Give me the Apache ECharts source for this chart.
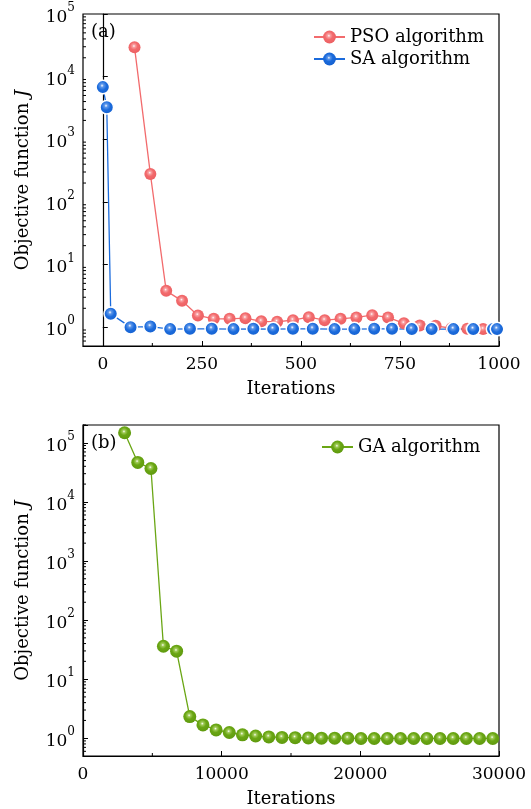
<!DOCTYPE html>
<html><head><meta charset="utf-8">
<script src="https://cdn.jsdelivr.net/npm/echarts@6/dist/echarts.min.js"></script>
<style>html,body{margin:0;padding:0;background:#fff}#c{width:531px;height:809px}</style>
</head><body><div id="c"></div>
<script>
// ---- data ----
const psoIter = [80,120,160,200,240,280,320,360,400,440,480,520,560,600,640,680,720,760,800,840,880,920,960];
const psoJ = [29500,280,3.8,2.63,1.54,1.36,1.36,1.39,1.24,1.22,1.29,1.44,1.29,1.36,1.43,1.55,1.43,1.15,1.06,1.05,0.96,0.94,0.93];
const saIter = [0,10,20,70,120,170,220,275,330,380,430,480,530,585,635,685,730,780,830,885,935,985,995];
const saJ = [6800,3250,1.63,1.0,1.02,0.93,0.94,0.94,0.93,0.94,0.93,0.94,0.94,0.93,0.93,0.94,0.94,0.93,0.93,0.93,0.93,0.93,0.93];
const gaIter = [3000,3950,4900,5800,6750,7700,8650,9600,10550,11500,12450,13400,14350,15300,16250,17200,18150,19100,20050,21000,21950,22900,23850,24800,25750,26700,27650,28600,29550];
const gaJ = [148000,46500,36700,36,29.7,2.32,1.68,1.38,1.25,1.14,1.09,1.05,1.03,1.02,1.01,1.0,1.0,1.0,0.99,0.99,0.99,0.99,0.99,0.99,0.99,0.99,0.99,0.99,0.99];
const xTicksA = [0,250,500,750,1000];
const xMinorA = [125,375,625,875];
const xTicksB = [0,10000,20000,30000];
const xMinorB = [5000,15000,25000];
const yMinorA = [0.6,0.7,0.8,0.9,2,3,4,5,6,7,8,9,20,30,40,50,60,70,80,90,200,300,400,500,600,700,800,900,2000,3000,4000,5000,6000,7000,8000,9000,20000,30000,40000,50000,60000,70000,80000,90000];
const yMinorB = yMinorA.concat([200000]);

const FONT = 'DejaVu Serif';
const xRangeA = [-50, 1000], yRangeA = [0.5, 1e5];
const xRangeB = [0, 30000], yRangeB = [0.5, 2e5];

function ball(base, light, dark){
  return {type:'radial', x:0.45, y:0.4, r:0.6, colorStops:[
    {offset:0, color:'#ffffff'},{offset:0.18, color:light},{offset:0.5, color:base},{offset:1, color:dark}]};
}
const RED='#f26b6d', BLUE='#1b6bdc', GREEN='#6aa614';

function logLabel(v){
  const l = Math.log10(v), e = Math.round(l);
  if (Math.abs(l-e) > 1e-6) return '';
  return '{b|10}{s|' + e + '}';
}
const yLabel = {
  fontFamily: FONT, color:'#000', margin: 8, formatter: logLabel,
  rich: {
    b:{fontFamily:FONT, fontSize:17, color:'#000', lineHeight:24, verticalAlign:'bottom'},
    s:{fontFamily:FONT, fontSize:12, color:'#000', lineHeight:24, verticalAlign:'top'}
  }
};
function yAxis(gi, range){
  return {
    type:'log', logBase:10, gridIndex:gi, min:range[0], max:range[1],
    axisLine:{show:true, lineStyle:{color:'#000', width:1.2}},
    axisTick:{show:true, inside:true, length:5, lineStyle:{color:'#000', width:1}},
    splitLine:{show:false}, minorTick:{show:false},
    axisLabel: yLabel,
    name:'Objective function {i|J}', nameLocation:'middle', nameGap:51,
    nameTextStyle:{fontFamily:FONT, fontSize:18, color:'#000',
      rich:{i:{fontFamily:FONT, fontStyle:'italic', fontSize:18, color:'#000'}}}
  };
}
const plain = v => String(v);
function xAxis(gi, range, extra){
  const a = {
    type:'value', gridIndex:gi, min:range[0], max:range[1],
    axisLine:{show:true, onZero:false, lineStyle:{color:'#000', width:1.2}},
    axisTick:{show:true, inside:true, length:5, lineStyle:{color:'#000', width:1}},
    splitLine:{show:false},
    axisLabel:{fontFamily:FONT, fontSize:17, color:'#000', margin:10, formatter:plain},
    name:'Iterations', nameLocation:'middle', nameGap:34,
    nameTextStyle:{fontFamily:FONT, fontSize:18, color:'#000'}
  };
  return Object.assign(a, extra||{});
}
function lineSeries(name, gi, xs, ys, color, fill, size, border){
  return {
    name, type:'line', xAxisIndex:gi, yAxisIndex:gi,
    data: xs.map((x,i)=>[x, ys[i]]),
    symbol:'circle', symbolSize:size,
    lineStyle:{color, width:1.3},
    itemStyle:{color: fill, borderColor:'#fff', borderWidth:border},
    z: 3, animation:false
  };
}
function minorSeries(gi, xMinVals, yMinVals, xMin, yMin){
  const data = yMinVals.map(v=>[xMin, v, 0]).concat(xMinVals.map(v=>[v, yMin, 1]));
  return {
    type:'custom', xAxisIndex:gi, yAxisIndex:gi, silent:true, animation:false, z:5,
    data, clip:false,
    renderItem(params, api){
      const p = api.coord([api.value(0), api.value(1)]);
      const kind = api.value(2);
      const shape = kind === 0 ? {x1:p[0], y1:p[1], x2:p[0]+3, y2:p[1]}
                               : {x1:p[0], y1:p[1], x2:p[0], y2:p[1]-3};
      return {type:'line', shape, style:{stroke:'#000', lineWidth:1}};
    }
  };
}

const chart = echarts.init(document.getElementById('c'), null, {renderer:'canvas'});
chart.setOption({
  backgroundColor:'#fff',
  animation:false,
  grid:[
    {left:83, top:14, width:416, height:332, show:true, borderColor:'#000', borderWidth:1.2, backgroundColor:'transparent'},
    {left:83, top:425, width:416, height:332, show:true, borderColor:'#000', borderWidth:1.2, backgroundColor:'transparent'}
  ],
  xAxis:[
    xAxis(0, xRangeA, {
      axisTick:{show:true, inside:true, length:5, customValues:xTicksA, lineStyle:{color:'#000', width:1}},
      axisLabel:{fontFamily:FONT, fontSize:17, color:'#000', margin:10, customValues:xTicksA, formatter:plain}
    }),
    xAxis(1, xRangeB, {interval:10000})
  ],
  yAxis:[ yAxis(0, yRangeA), yAxis(1, yRangeB) ],
  legend:[
    {data:['PSO algorithm','SA algorithm'], orient:'vertical', left:308, top:21,
     itemWidth:31, itemHeight:16, itemGap:0,
     itemStyle:{borderWidth:0},
     textStyle:{fontFamily:FONT, fontSize:18, color:'#000', lineHeight:22}},
    {data:['GA algorithm'], orient:'vertical', left:316, top:431,
     itemWidth:31, itemHeight:16, itemGap:0,
     textStyle:{fontFamily:FONT, fontSize:18, color:'#000', lineHeight:22}}
  ],
  graphic:[
    {type:'text', left:91, top:23, style:{text:'(a)', font:'18px "DejaVu Serif"', fill:'#000'}},
    {type:'text', left:91, top:434, style:{text:'(b)', font:'18px "DejaVu Serif"', fill:'#000'}}
  ],
  series:[
    lineSeries('PSO algorithm', 0, psoIter, psoJ, RED, ball(RED, '#f9a3a5', '#ec5f62'), 12, 0),
    lineSeries('SA algorithm', 0, saIter, saJ, BLUE, ball(BLUE, '#5f98ea', '#1560cf'), 13.5, 1.5),
    lineSeries('GA algorithm', 1, gaIter, gaJ, GREEN, ball(GREEN, '#a2cc5a', '#5f9a0e'), 13, 0),
    minorSeries(0, xMinorA, yMinorA, xRangeA[0], yRangeA[0]),
    minorSeries(1, xMinorB, yMinorB, xRangeB[0], yRangeB[0])
  ]
});
</script></body></html>
